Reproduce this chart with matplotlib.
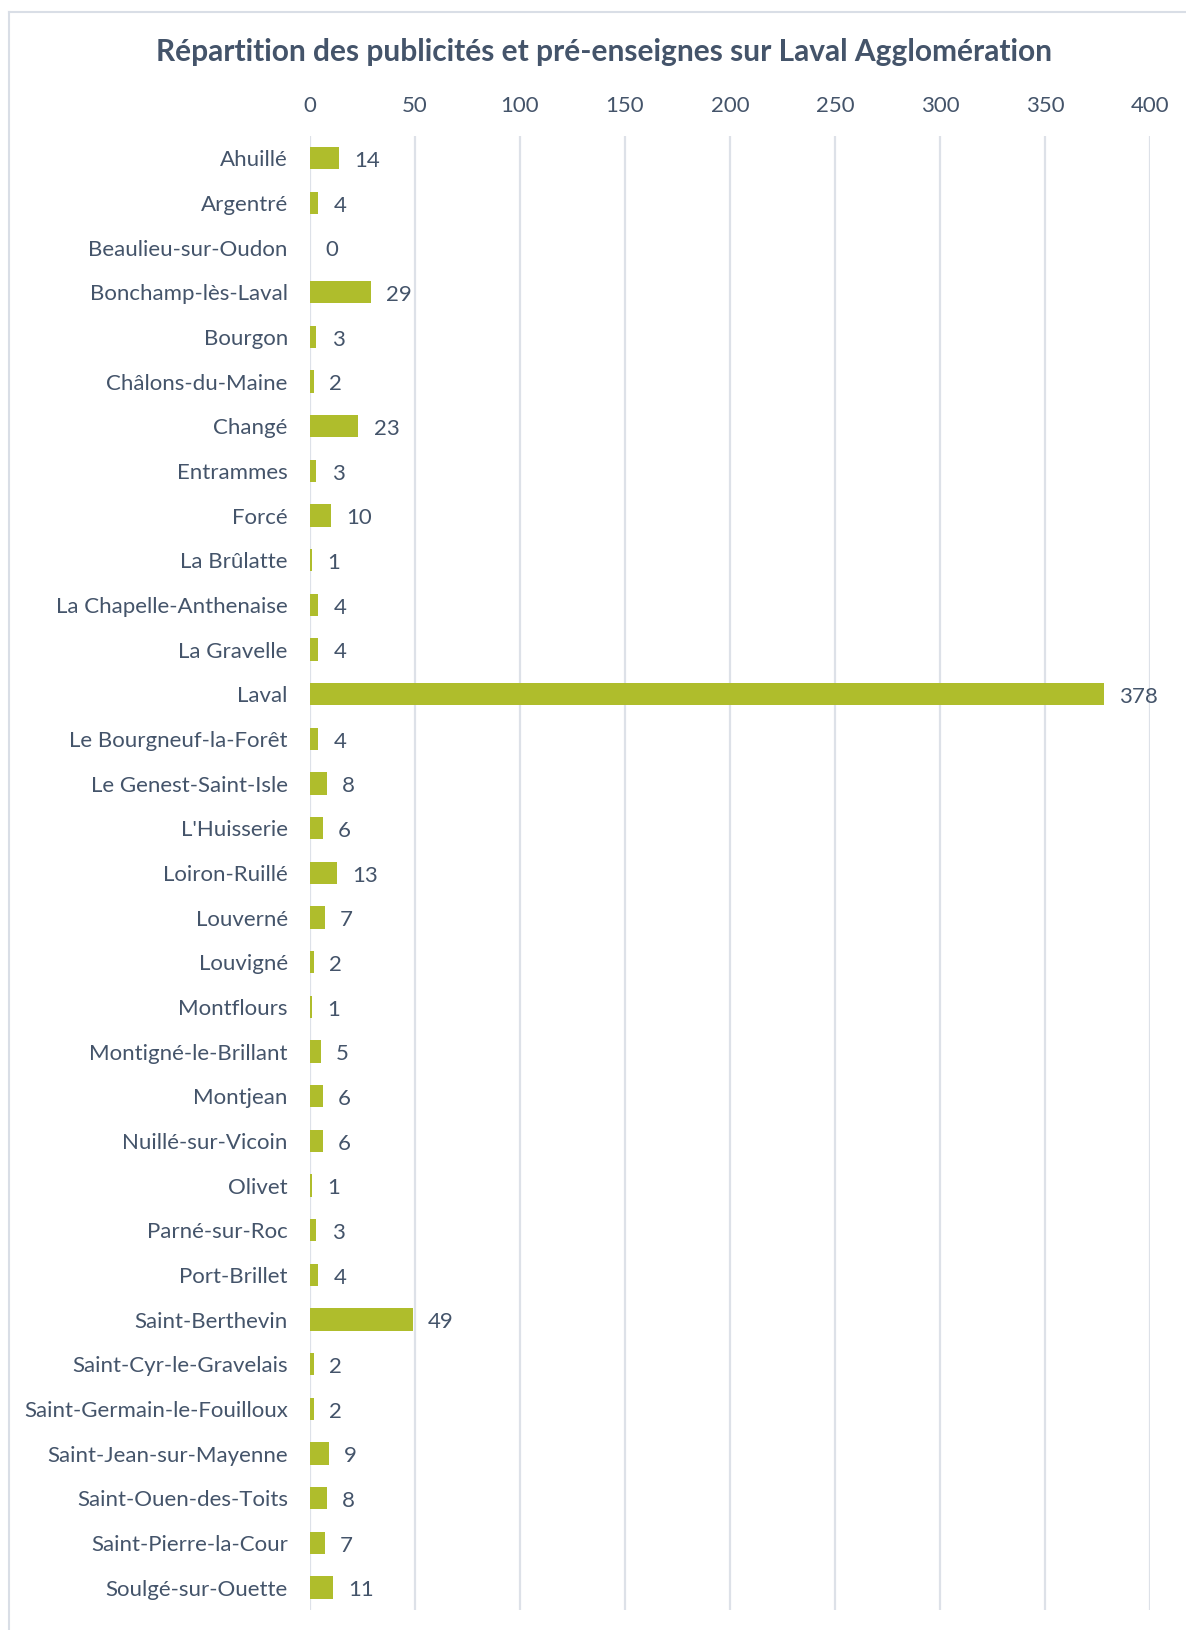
import matplotlib.pyplot as plt
from matplotlib.lines import Line2D

plt.rcParams['font.family'] = ['Lato', 'DejaVu Sans']

# Données : nombre de publicités et pré-enseignes par commune
communes = [
    "Ahuillé", "Argentré", "Beaulieu-sur-Oudon", "Bonchamp-lès-Laval", "Bourgon",
    "Châlons-du-Maine", "Changé", "Entrammes", "Forcé", "La Brûlatte",
    "La Chapelle-Anthenaise", "La Gravelle", "Laval", "Le Bourgneuf-la-Forêt",
    "Le Genest-Saint-Isle", "L'Huisserie", "Loiron-Ruillé", "Louverné", "Louvigné",
    "Montflours", "Montigné-le-Brillant", "Montjean", "Nuillé-sur-Vicoin", "Olivet",
    "Parné-sur-Roc", "Port-Brillet", "Saint-Berthevin", "Saint-Cyr-le-Gravelais",
    "Saint-Germain-le-Fouilloux", "Saint-Jean-sur-Mayenne", "Saint-Ouen-des-Toits",
    "Saint-Pierre-la-Cour", "Soulgé-sur-Ouette",
]
nombres = [14, 4, 0, 29, 3, 2, 23, 3, 10, 1, 4, 4, 378, 4, 8, 6, 13, 7, 2, 1,
           5, 6, 6, 1, 3, 4, 49, 2, 2, 9, 8, 7, 11]
graduations = [0, 50, 100, 150, 200, 250, 300, 350, 400]

texte = '#44546A'
vert = '#AFBD2C'
grille = '#DDE1E8'

fig = plt.figure(figsize=(11.86, 16.30), dpi=100)
ax = fig.add_axes([0.2614, 0.0123, 0.7082, 0.9043])

y = range(len(communes))
barres = ax.barh(y, nombres, height=0.5, color=vert, zorder=3)

# étiquettes de valeur, légèrement sous le centre de la barre comme dans Excel
for pos, n in zip(y, nombres):
    ax.annotate(str(n), (n, pos), xytext=(11, -2), textcoords='offset points',
                ha='left', va='center', fontsize=16, color=texte)

ax.set_ylim(len(communes) - 0.5, -0.5)
ax.set_xlim(0, 400)
ax.set_yticks(list(y))
ax.set_yticklabels(communes, fontsize=16, color=texte)
ax.set_xticks(graduations)
ax.set_xticklabels([str(g) for g in graduations], fontsize=16, color=texte)
ax.xaxis.tick_top()
ax.tick_params(axis='x', length=0, pad=14)
ax.tick_params(axis='y', length=0, pad=16)
for s in ax.spines.values():
    s.set_visible(False)
ax.grid(axis='x', color=grille, linewidth=1.6, zorder=0)

fig.text(0.509, 0.968, "Répartition des publicités et pré-enseignes sur Laval Agglomération",
         ha='center', va='center', fontsize=21.5, fontweight='bold', color=texte)

# cadre du graphique (haut et gauche visibles)
fig.add_artist(Line2D([0.0075, 1.0], [0.9925, 0.9925], color='#D9DEE6', linewidth=1.5))
fig.add_artist(Line2D([0.0075, 0.0075], [0.0, 0.9925], color='#D9DEE6', linewidth=1.5))

plt.savefig('out.png', dpi=100)
